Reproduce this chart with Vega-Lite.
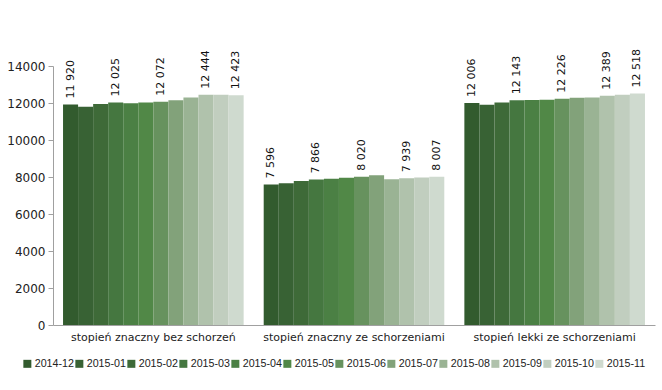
{
  "$schema": "https://vega.github.io/schema/vega-lite/v6.json",
  "width": 602,
  "height": 259,
  "autosize": {"type": "none"},
  "padding": {"left": 53, "top": 66, "right": 7, "bottom": 65},
  "background": "white",
  "config": {
    "view": {"stroke": null},
    "font": "DejaVu Sans",
    "locale": {"number": {"decimal": ",", "thousands": " ", "grouping": [3], "currency": ["", ""]}}
  },
  "data": {
    "values": [
      {"kat": "stopień znaczny bez schorzeń", "m": "2014-12", "v": 11920},
      {"kat": "stopień znaczny bez schorzeń", "m": "2015-01", "v": 11800},
      {"kat": "stopień znaczny bez schorzeń", "m": "2015-02", "v": 11945},
      {"kat": "stopień znaczny bez schorzeń", "m": "2015-03", "v": 12025},
      {"kat": "stopień znaczny bez schorzeń", "m": "2015-04", "v": 11980},
      {"kat": "stopień znaczny bez schorzeń", "m": "2015-05", "v": 12030},
      {"kat": "stopień znaczny bez schorzeń", "m": "2015-06", "v": 12072},
      {"kat": "stopień znaczny bez schorzeń", "m": "2015-07", "v": 12150},
      {"kat": "stopień znaczny bez schorzeń", "m": "2015-08", "v": 12300},
      {"kat": "stopień znaczny bez schorzeń", "m": "2015-09", "v": 12444},
      {"kat": "stopień znaczny bez schorzeń", "m": "2015-10", "v": 12440},
      {"kat": "stopień znaczny bez schorzeń", "m": "2015-11", "v": 12423},
      {"kat": "stopień znaczny ze schorzeniami", "m": "2014-12", "v": 7596},
      {"kat": "stopień znaczny ze schorzeniami", "m": "2015-01", "v": 7660},
      {"kat": "stopień znaczny ze schorzeniami", "m": "2015-02", "v": 7780},
      {"kat": "stopień znaczny ze schorzeniami", "m": "2015-03", "v": 7866},
      {"kat": "stopień znaczny ze schorzeniami", "m": "2015-04", "v": 7900},
      {"kat": "stopień znaczny ze schorzeniami", "m": "2015-05", "v": 7960},
      {"kat": "stopień znaczny ze schorzeniami", "m": "2015-06", "v": 8020},
      {"kat": "stopień znaczny ze schorzeniami", "m": "2015-07", "v": 8100},
      {"kat": "stopień znaczny ze schorzeniami", "m": "2015-08", "v": 7880},
      {"kat": "stopień znaczny ze schorzeniami", "m": "2015-09", "v": 7939},
      {"kat": "stopień znaczny ze schorzeniami", "m": "2015-10", "v": 7970},
      {"kat": "stopień znaczny ze schorzeniami", "m": "2015-11", "v": 8007},
      {"kat": "stopień lekki ze schorzeniami", "m": "2014-12", "v": 12006},
      {"kat": "stopień lekki ze schorzeniami", "m": "2015-01", "v": 11900},
      {"kat": "stopień lekki ze schorzeniami", "m": "2015-02", "v": 12030},
      {"kat": "stopień lekki ze schorzeniami", "m": "2015-03", "v": 12143},
      {"kat": "stopień lekki ze schorzeniami", "m": "2015-04", "v": 12160},
      {"kat": "stopień lekki ze schorzeniami", "m": "2015-05", "v": 12180},
      {"kat": "stopień lekki ze schorzeniami", "m": "2015-06", "v": 12226},
      {"kat": "stopień lekki ze schorzeniami", "m": "2015-07", "v": 12280},
      {"kat": "stopień lekki ze schorzeniami", "m": "2015-08", "v": 12300},
      {"kat": "stopień lekki ze schorzeniami", "m": "2015-09", "v": 12389},
      {"kat": "stopień lekki ze schorzeniami", "m": "2015-10", "v": 12450},
      {"kat": "stopień lekki ze schorzeniami", "m": "2015-11", "v": 12518}
    ]
  },
  "encoding": {
    "x": {
      "field": "kat", "type": "nominal", "sort": null,
      "scale": {"paddingInner": 0.1, "paddingOuter": 0.05},
      "axis": {
        "title": null, "labelAngle": 0, "labelFontSize": 11, "labelColor": "#222",
        "labelPadding": 6, "labelLimit": 0, "domainColor": "#a0a0a0", "ticks": false
      }
    },
    "xOffset": {"field": "m", "type": "nominal", "sort": null},
    "y": {
      "field": "v", "type": "quantitative",
      "scale": {"domain": [0, 14000]},
      "axis": {
        "title": null, "values": [0, 2000, 4000, 6000, 8000, 10000, 12000, 14000],
        "format": "d", "grid": false, "labelFontSize": 12, "labelColor": "#222",
        "domainColor": "#a0a0a0", "tickColor": "#a0a0a0", "tickSize": 5, "labelPadding": 3
      }
    }
  },
  "layer": [
    {
      "mark": {"type": "bar", "stroke": null},
      "encoding": {
        "color": {
          "field": "m", "type": "nominal", "sort": null,
          "scale": {
            "range": ["#325b2e", "#386234", "#3e6a38", "#457740", "#4b8044", "#518847", "#67925e", "#82a27a", "#9ab394", "#b0c2ac", "#c1cebf", "#cfdacf"]
          },
          "legend": {
            "title": null, "orient": "none", "direction": "horizontal", "columns": 12,
            "legendX": -31, "legendY": 292, "symbolType": "square", "symbolSize": 64,
            "symbolStrokeWidth": 0, "labelFontSize": 10.7, "labelFont": "Liberation Sans",
            "labelColor": "#222", "labelOffset": 2, "columnPadding": 0
          }
        }
      }
    },
    {
      "transform": [{"filter": {"field": "m", "oneOf": ["2014-12", "2015-03", "2015-06", "2015-09", "2015-11"]}}],
      "mark": {"type": "text", "angle": 270, "align": "left", "baseline": "middle", "dx": 6, "fontSize": 11, "color": "#111"},
      "encoding": {
        "text": {"field": "v", "type": "quantitative", "format": ",d"}
      }
    }
  ]
}
